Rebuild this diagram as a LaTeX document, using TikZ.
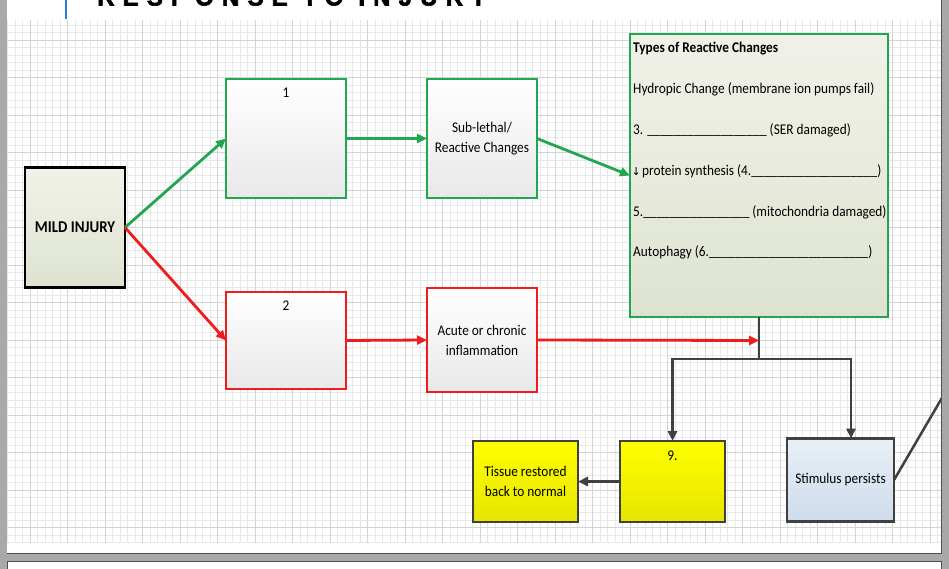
\documentclass[tikz,border=0pt]{standalone}
\usepackage{fontspec}
\setmainfont{Carlito}[FakeStretch=0.9]
\newfontfamily\arrowfont{DejaVu Sans}
\newfontfamily\titlefont{Liberation Sans Bold}[LetterSpace=34, FakeBold=2.5]
\usetikzlibrary{arrows.meta}
\definecolor{gr}{HTML}{22A650}
\definecolor{rd}{HTML}{EE1C1C}
\definecolor{dk}{HTML}{404040}
\definecolor{chrome}{HTML}{A9A9A9}
\definecolor{edge}{HTML}{505050}
\tikzset{
  box/.style={draw, line width=2.5pt, inner sep=0pt, outer sep=0pt, align=center,
    font=\fontsize{14.8}{20}\selectfont},
  greenbox/.style={box, draw=gr, line width=2.8pt, top color=white, bottom color=black!9},
  redbox/.style={box, draw=rd, line width=2.8pt, top color=white, bottom color=black!9},
  yellowbox/.style={box, draw=dk, top color=yellow, bottom color=yellow!90!black},
  bluebox/.style={box, draw=dk, top color={rgb,255:red,232;green,239;blue,246}, bottom color={rgb,255:red,206;green,220;blue,235}},
  olivebox/.style={box, top color={rgb,255:red,240;green,242;blue,233}, bottom color={rgb,255:red,222;green,227;blue,208}},
  numlabel/.style={anchor=north, inner sep=0pt, yshift=-9pt, font=\fontsize{14.8}{20}\selectfont},
  listtext/.style={anchor=base west, inner sep=0pt, font=\fontsize{14.8}{20}\selectfont},
  garrow/.style={draw=gr, line width=2.8pt, -{Triangle[length=10pt,width=9pt]}},
  rarrow/.style={draw=rd, line width=2.8pt, -{Triangle[length=10pt,width=9pt]}},
  darrow/.style={draw=dk, line width=2.5pt, -{Triangle[length=10pt,width=9pt]}},
  dline/.style={draw=dk, line width=2.5pt},
  minorgrid/.style={draw=black!9, line width=0.6pt},
  majorgrid/.style={draw=black!17, line width=0.8pt}
}
\begin{document}
\begin{tikzpicture}[x=1pt,y=-1pt]
\useasboundingbox (0,0) rectangle (949,569);
% page background
\fill[white] (0,0) rectangle (949,569);
% grid area
\begin{scope}
\clip (7,20) rectangle (941,543);
\foreach \x in {7.5,15,...,945} \draw[minorgrid] (\x,20) -- (\x,543);
\foreach \y in {25,32.5,...,545} \draw[minorgrid] (7,\y) -- (941,\y);
\foreach \x in {30,67.5,...,945} \draw[majorgrid] (\x,20) -- (\x,543);
\foreach \y in {40,77.5,...,545} \draw[majorgrid] (7,\y) -- (941,\y);
\end{scope}
% title (cut off at top, as in the reference)
\begin{scope}
\clip (7,0) rectangle (941,20);
\node[anchor=base west, inner sep=0pt, font=\titlefont\fontsize{24}{24}\selectfont] (title) at (97,5.5) {RESPONSE TO INJURY};
\draw[draw={rgb,255:red,40;green,125;blue,215}, line width=2pt] (66,0) -- (66,19.5);
\end{scope}

% nodes
\node[olivebox, draw=black, minimum width=100pt, minimum height=120pt,
      font=\bfseries\fontsize{16.5}{20}\selectfont] (mild) at (75,227.5) {MILD INJURY};
\node[greenbox, minimum width=120pt, minimum height=119pt,
      label={[numlabel]north:1}] (b1) at (286,138.5) {};
\node[greenbox, minimum width=110pt, minimum height=119pt] (sub) at (482,138.5) {Sub-lethal/\\Reactive Changes};
\node[olivebox, draw=gr, line width=2.8pt, minimum width=258pt, minimum height=283pt] (types) at (759,175.5) {};
\node[listtext, font=\bfseries\fontsize{14.8}{20}\selectfont] (t0) at (633,52.5) {Types of Reactive Changes};
\node[listtext] (t1) at (633,93.5) {Hydropic Change (membrane ion pumps fail)};
\node[listtext] (t2) at (633,134.5) {3. \_\_\_\_\_\_\_\_\_\_\_\_\_\_\_\_\_\_ (SER damaged)};
\node[listtext] (t3) at (633,175.5) {{\arrowfont\fontsize{11}{11}\selectfont\makebox[6pt]{↓}} protein synthesis (4.\_\_\_\_\_\_\_\_\_\_\_\_\_\_\_\_\_\_\_)};
\node[listtext] (t4) at (633,216.5) {5.\_\_\_\_\_\_\_\_\_\_\_\_\_\_\_\_ (mitochondria damaged)};
\node[listtext] (t5) at (633,256.5) {Autophagy (6.\_\_\_\_\_\_\_\_\_\_\_\_\_\_\_\_\_\_\_\_\_\_\_\_)};
\node[redbox, minimum width=120pt, minimum height=97pt,
      label={[numlabel]north:2}] (b2) at (286,340.5) {};
\node[redbox, minimum width=110pt, minimum height=104pt] (acute) at (482,340) {Acute or chronic\\inflammation};
\node[yellowbox, minimum width=105pt, minimum height=81pt] (tissue) at (525.5,481.5) {Tissue restored\\back to normal};
\node[yellowbox, minimum width=105pt, minimum height=81pt,
      label={[numlabel, yshift=-1pt]north:9.}] (nine) at (672.5,481.5) {};
\node[bluebox, minimum width=107pt, minimum height=83pt] (stim) at (840.5,480) {Stimulus persists};

\coordinate (jn) at (759,340.5);
\coordinate (split) at (759,359);
\coordinate (stimin) at (851,438.5);
\coordinate (offpage) at (946,391);

% connectors
\draw[garrow] (mild.east) -- (b1.west);
\draw[garrow] (b1.east) -- (sub.west);
\draw[garrow] (sub.east) -- (types.west);
\draw[rarrow] (mild.east) -- (b2.west);
\draw[rarrow] (b2.east) -- (acute.west);
\draw[dline] (types.south) -- (split);
\draw[rarrow] (acute.east) -- (jn);
\draw[darrow] (split) -| (nine.north);
\draw[darrow] (split) -| (stimin);
\draw[darrow] (nine.west) -- (tissue.east);
\draw[dline] (stim.east) -- (offpage);

% window chrome
\fill[chrome] (0,0) rectangle (7,569);
\fill[chrome] (941,0) rectangle (949,569);
\fill[chrome] (7,553) rectangle (941,561);
\draw[edge, line width=1pt] (7,553) -- (941,553) -- (941,0);
\draw[edge, line width=1pt] (7.5,569) -- (7.5,561) -- (941,561) -- (941,569);
\end{tikzpicture}
\end{document}
